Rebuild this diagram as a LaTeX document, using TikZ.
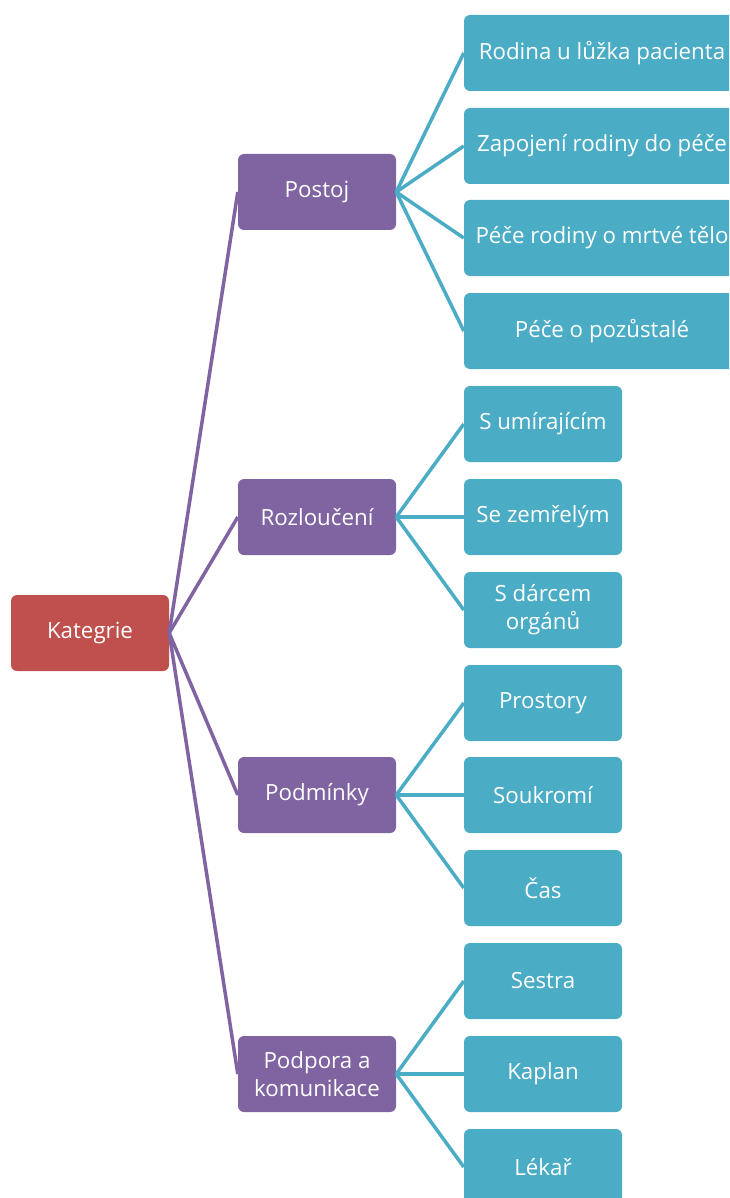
\documentclass[tikz,border=0pt]{standalone}
\usepackage{fontspec}
\setmainfont{Open Sans}
\definecolor{rootred}{HTML}{C0504D}
\definecolor{midpurple}{HTML}{8064A2}
\definecolor{leafteal}{HTML}{4BACC6}
\begin{document}
\begin{tikzpicture}[x=1pt,y=-1pt,
  box/.style={rounded corners=6pt, minimum height=76pt, text=white, inner sep=0pt,
    align=center, font=\fontsize{22.3}{28}\selectfont},
  rootbox/.style={box, fill=rootred, minimum width=158pt},
  midbox/.style={box, fill=midpurple, minimum width=158pt},
  leafbox/.style={box, fill=leafteal, minimum width=158pt},
  wideleaf/.style={box, fill=leafteal, minimum width=276pt},
  midlink/.style={draw=midpurple, line width=3.5pt},
  leaflink/.style={draw=leafteal, line width=3.5pt}]
\useasboundingbox (0,0) rectangle (729,1198);
\clip (0,0) rectangle (729,1198);

% root
\node[rootbox] (k) at (90,633) {Kategrie};

% second level
\node[midbox] (m1) at (317,192) {Postoj};
\node[midbox] (m2) at (317,517) {Rozloučení};
\node[midbox] (m3) at (317,795) {Podmínky};
\node[midbox] (m4) at (317,1074) {Podpora a\\komunikace};

% leaves of Postoj
\node[wideleaf] (a1) at (602,53) {Rodina u lůžka pacienta};
\node[wideleaf] (a2) at (602,146) {Zapojení rodiny do péče};
\node[wideleaf] (a3) at (602,238) {Péče rodiny o mrtvé tělo};
\node[wideleaf] (a4) at (602,331) {Péče o pozůstalé};

% leaves of Rozloučení
\node[leafbox] (b1) at (543,424) {S umírajícím};
\node[leafbox] (b2) at (543,517) {Se zemřelým};
\node[leafbox] (b3) at (543,610) {S dárcem\\orgánů};

% leaves of Podmínky
\node[leafbox] (c1) at (543,703) {Prostory};
\node[leafbox] (c2) at (543,795) {Soukromí};
\node[leafbox] (c3) at (543,888) {Čas};

% leaves of Podpora a komunikace
\node[leafbox] (d1) at (543,981) {Sestra};
\node[leafbox] (d2) at (543,1074) {Kaplan};
\node[leafbox] (d3) at (543,1167) {Lékař};

% connectors
\foreach \m in {m1,m2,m3,m4} \path[midlink] (k.east) -- (\m.west);
\foreach \l in {a1,a2,a3,a4} \path[leaflink] (m1.east) -- (\l.west);
\foreach \l in {b1,b2,b3} \path[leaflink] (m2.east) -- (\l.west);
\foreach \l in {c1,c2,c3} \path[leaflink] (m3.east) -- (\l.west);
\foreach \l in {d1,d2,d3} \path[leaflink] (m4.east) -- (\l.west);
\end{tikzpicture}
\end{document}
